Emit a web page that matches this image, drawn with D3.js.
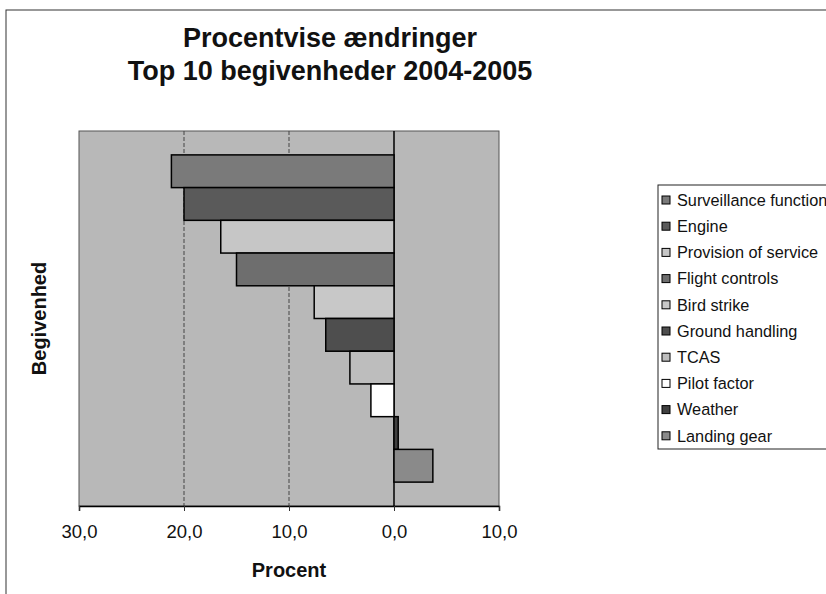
<!DOCTYPE html>
<html>
<head>
<meta charset="utf-8">
<script src="https://cdn.jsdelivr.net/npm/d3@7/dist/d3.min.js"></script>
<style>
  html, body { margin: 0; padding: 0; background: #ffffff; }
  svg { display: block; font-family: "Liberation Sans", Arial, sans-serif; }
</style>
</head>
<body>
<svg id="chart" width="826" height="594"></svg>
<script>
// ---- data ----
const categories = ["Surveillance function", "Engine", "Provision of service", "Flight controls",
  "Bird strike", "Ground handling", "TCAS", "Pilot factor", "Weather", "Landing gear"];
const values = [-21.2, -20.0, -16.5, -15.0, -7.6, -6.5, -4.2, -2.2, 0.4, 3.7];
const fills = ["#7a7a7a", "#5a5a5a", "#c6c6c6", "#6e6e6e", "#c8c8c8", "#4e4e4e", "#bdbdbd", "#ffffff", "#404040", "#8a8a8a"];
const xTicks = [-30, -20, -10, 0, 10];
const titleLines = ["Procentvise ændringer", "Top 10 begivenheder 2004-2005"];
const xTitle = "Procent";
const yTitle = "Begivenhed";

// ---- layout ----
const svg = d3.select("#chart");
const plot = { left: 79, right: 499, top: 131, bottom: 506 };

// chart area border
svg.append("rect").attr("x", 6).attr("y", 10).attr("width", 900).attr("height", 700)
  .attr("fill", "#ffffff").attr("stroke", "#333").attr("stroke-width", 1);

const x = d3.scaleLinear().domain([-30, 10]).range([plot.left, plot.right]);
const y = d3.scaleBand().domain(categories).range([plot.top, plot.bottom])
  .paddingInner(0).paddingOuter(0.73);

// plot background
svg.append("rect").attr("x", plot.left).attr("y", plot.top)
  .attr("width", plot.right - plot.left).attr("height", plot.bottom - plot.top)
  .attr("fill", "#b8b8b8").attr("stroke", "#555").attr("stroke-width", 1);

// gridlines
svg.append("g").selectAll("line").data(xTicks.filter(d => d > -30 && d < 10)).join("line")
  .attr("x1", d => x(d)).attr("x2", d => x(d))
  .attr("y1", plot.top).attr("y2", plot.bottom)
  .attr("stroke", d => d === 0 ? "#000" : "#444")
  .attr("stroke-width", d => d === 0 ? 1.5 : 1)
  .attr("stroke-dasharray", d => d === 0 ? null : "4,2");

// bars
svg.append("g").selectAll("rect").data(categories).join("rect")
  .attr("x", (d, i) => x(Math.min(0, values[i])))
  .attr("y", d => y(d))
  .attr("width", (d, i) => Math.abs(x(values[i]) - x(0)))
  .attr("height", y.bandwidth())
  .attr("fill", (d, i) => fills[i])
  .attr("stroke", "#000").attr("stroke-width", 1.5);

// x axis
const fmt = d => Math.abs(d).toFixed(1).replace(".", ",");
const xAxis = svg.append("g").attr("transform", `translate(0,${plot.bottom})`)
  .call(d3.axisBottom(x).tickValues(xTicks).tickFormat(fmt).tickSize(5).tickPadding(14));
xAxis.select(".domain").attr("stroke", "#000").attr("stroke-width", 1.5);
xAxis.selectAll(".tick line").attr("stroke", "#333");
xAxis.selectAll("text").attr("font-size", 18.5).attr("fill", "#111")
  .attr("font-family", "'Liberation Sans', Arial, sans-serif");

// axis titles
svg.append("text").attr("x", (plot.left + plot.right) / 2).attr("y", 577)
  .attr("text-anchor", "middle").attr("font-size", 20).attr("font-weight", "bold")
  .attr("fill", "#111").text(xTitle);
svg.append("text")
  .attr("transform", `translate(46,${(plot.top + plot.bottom) / 2}) rotate(-90)`)
  .attr("text-anchor", "middle").attr("font-size", 20).attr("font-weight", "bold")
  .attr("fill", "#111").text(yTitle);

// title
svg.append("g").selectAll("text").data(titleLines).join("text")
  .attr("x", 330).attr("y", (d, i) => 47 + i * 33)
  .attr("text-anchor", "middle").attr("font-size", 27).attr("font-weight", "bold")
  .attr("fill", "#111").text(d => d);

// legend
const lg = svg.append("g");
lg.append("rect").attr("x", 658).attr("y", 185).attr("width", 200).attr("height", 264)
  .attr("fill", "#fff").attr("stroke", "#222").attr("stroke-width", 1);
const items = lg.selectAll("g.item").data(categories).join("g").attr("class", "item")
  .attr("transform", (d, i) => `translate(662,${200 + i * 26.2})`);
items.append("rect").attr("x", 0).attr("y", -4).attr("width", 8).attr("height", 8)
  .attr("fill", (d, i) => fills[i]).attr("stroke", "#000").attr("stroke-width", 1);
items.append("text").attr("x", 15).attr("y", 0).attr("dy", "0.35em")
  .attr("font-size", 16.3).attr("fill", "#111").text(d => d);
</script>
</body>
</html>
